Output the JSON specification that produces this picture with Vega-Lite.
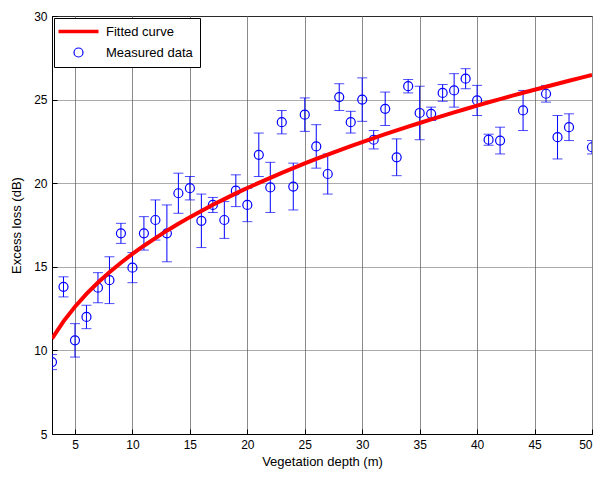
{
  "$schema": "https://vega.github.io/schema/vega-lite/v6.json",
  "width": 540,
  "height": 418,
  "autosize": "none",
  "padding": {"left": 52, "top": 16, "right": 11, "bottom": 45},
  "background": "white",
  "config": {
    "view": {"stroke": "black", "strokeWidth": 1},
    "font": "Liberation Sans",
    "axis": {
      "labelFont": "Liberation Sans", "labelFontSize": 12, "labelColor": "black",
      "titleFont": "Liberation Sans", "titleFontSize": 13, "titleFontWeight": "normal", "titleColor": "black",
      "domainColor": "black", "tickColor": "black", "tickSize": -5
    },
    "legend": {
      "labelFont": "Liberation Sans", "labelFontSize": 13, "labelColor": "black"
    }
  },
  "datasets": {
    "curve": [
      {"x": 3, "fit": 10.70}, {"x": 4, "fit": 11.74}, {"x": 5, "fit": 12.61}, {"x": 6, "fit": 13.38},
      {"x": 7, "fit": 14.06}, {"x": 8, "fit": 14.67}, {"x": 9, "fit": 15.24}, {"x": 10, "fit": 15.77},
      {"x": 11, "fit": 16.26}, {"x": 12, "fit": 16.72}, {"x": 13, "fit": 17.16}, {"x": 14, "fit": 17.57},
      {"x": 15, "fit": 17.97}, {"x": 16, "fit": 18.34}, {"x": 17, "fit": 18.71}, {"x": 18, "fit": 19.05},
      {"x": 19, "fit": 19.39}, {"x": 20, "fit": 19.71}, {"x": 21, "fit": 20.02}, {"x": 22, "fit": 20.32},
      {"x": 23, "fit": 20.62}, {"x": 24, "fit": 20.90}, {"x": 25, "fit": 21.18}, {"x": 26, "fit": 21.45},
      {"x": 27, "fit": 21.71}, {"x": 28, "fit": 21.97}, {"x": 29, "fit": 22.22}, {"x": 30, "fit": 22.46},
      {"x": 31, "fit": 22.70}, {"x": 32, "fit": 22.93}, {"x": 33, "fit": 23.16}, {"x": 34, "fit": 23.38},
      {"x": 35, "fit": 23.60}, {"x": 36, "fit": 23.82}, {"x": 37, "fit": 24.03}, {"x": 38, "fit": 24.24},
      {"x": 39, "fit": 24.44}, {"x": 40, "fit": 24.64}, {"x": 41, "fit": 24.84}, {"x": 42, "fit": 25.03},
      {"x": 43, "fit": 25.22}, {"x": 44, "fit": 25.41}, {"x": 45, "fit": 25.59}, {"x": 46, "fit": 25.77},
      {"x": 47, "fit": 25.95}, {"x": 48, "fit": 26.13}, {"x": 49, "fit": 26.30}, {"x": 50, "fit": 26.47}
    ],
    "meas": [
      {"x": 3, "y": 9.3, "err": 0.45}, {"x": 4, "y": 13.8, "err": 0.6}, {"x": 5, "y": 10.6, "err": 1.0},
      {"x": 6, "y": 12.0, "err": 0.7}, {"x": 7, "y": 13.75, "err": 0.9}, {"x": 8, "y": 14.2, "err": 1.4},
      {"x": 9, "y": 17.0, "err": 0.6}, {"x": 10, "y": 14.95, "err": 0.9}, {"x": 11, "y": 17.0, "err": 1.0},
      {"x": 12, "y": 17.8, "err": 1.2}, {"x": 13, "y": 17.0, "err": 1.7}, {"x": 14, "y": 19.4, "err": 1.2},
      {"x": 15, "y": 19.7, "err": 0.7}, {"x": 16, "y": 17.75, "err": 1.6}, {"x": 17, "y": 18.7, "err": 0.45},
      {"x": 18, "y": 17.8, "err": 1.1}, {"x": 19, "y": 19.55, "err": 0.95}, {"x": 20, "y": 18.7, "err": 1.0},
      {"x": 21, "y": 21.7, "err": 1.3}, {"x": 22, "y": 19.75, "err": 1.5}, {"x": 23, "y": 23.65, "err": 0.7},
      {"x": 24, "y": 19.8, "err": 1.4}, {"x": 25, "y": 24.1, "err": 1.0}, {"x": 26, "y": 22.2, "err": 1.3},
      {"x": 27, "y": 20.55, "err": 1.2}, {"x": 28, "y": 25.15, "err": 0.8}, {"x": 29, "y": 23.65, "err": 0.65},
      {"x": 30, "y": 25.0, "err": 1.3}, {"x": 31, "y": 22.6, "err": 0.55}, {"x": 32, "y": 24.45, "err": 1.0},
      {"x": 33, "y": 21.55, "err": 1.1}, {"x": 34, "y": 25.8, "err": 0.4}, {"x": 35, "y": 24.2, "err": 1.6},
      {"x": 36, "y": 24.15, "err": 0.4}, {"x": 37, "y": 25.4, "err": 0.5}, {"x": 38, "y": 25.55, "err": 1.0},
      {"x": 39, "y": 26.25, "err": 0.6}, {"x": 40, "y": 24.95, "err": 0.9}, {"x": 41, "y": 22.6, "err": 0.33},
      {"x": 42, "y": 22.55, "err": 0.8}, {"x": 44, "y": 24.35, "err": 1.2}, {"x": 46, "y": 25.35, "err": 0.5},
      {"x": 47, "y": 22.75, "err": 1.3}, {"x": 48, "y": 23.35, "err": 0.8}, {"x": 50, "y": 22.15, "err": 0.4}
    ]
  },
  "layer": [
    {
      "data": {"name": "meas"},
      "mark": {"type": "errorbar", "color": "#0000ff", "clip": true, "ticks": {"size": 10}},
      "encoding": {
        "x": {"field": "x", "type": "quantitative", "scale": {"domain": [3, 50], "nice": false, "zero": false},
          "axis": {"values": [5, 10, 15, 20, 25, 30, 35, 40, 45, 50], "title": "Vegetation depth (m)",
            "grid": true, "gridColor": "#8a8a8a", "gridOpacity": 1, "labelPadding": 10, "titlePadding": 5}},
        "y": {"field": "y", "type": "quantitative", "scale": {"domain": [5, 30], "nice": false, "zero": false},
          "axis": {"values": [5, 10, 15, 20, 25, 30], "title": "Excess loss (dB)",
            "grid": true, "gridColor": "#555555", "gridDash": [1, 1], "gridOpacity": 1, "labelPadding": 10, "titlePadding": 10}},
        "yError": {"field": "err"}
      }
    },
    {
      "data": {"name": "meas"},
      "mark": {"type": "point", "shape": "circle", "filled": false, "size": 81, "strokeWidth": 1.2, "clip": true, "opacity": 1},
      "encoding": {
        "x": {"field": "x", "type": "quantitative"},
        "y": {"field": "y", "type": "quantitative"},
        "color": {"datum": "Measured data", "scale": {"domain": ["Fitted curve", "Measured data"], "range": ["#ff0000", "#0000ff"]}}
      }
    },
    {
      "data": {"name": "curve"},
      "mark": {"type": "line", "strokeWidth": 4, "clip": true},
      "encoding": {
        "x": {"field": "x", "type": "quantitative"},
        "y": {"field": "fit", "type": "quantitative"},
        "color": {"datum": "Fitted curve",
          "legend": {
            "title": null, "orient": "top-left", "offset": 2, "padding": 7, "rowPadding": 6,
            "strokeColor": "black", "fillColor": "white", "cornerRadius": 0,
            "symbolSize": 81, "symbolOffset": 11, "labelOffset": 21,
            "encode": {
              "symbols": {"update": {
                "shape": {"signal": "datum.value === 'Fitted curve' ? 'stroke' : 'circle'"},
                "size": {"signal": "datum.value === 'Fitted curve' ? 1600 : 81"},
                "strokeWidth": {"signal": "datum.value === 'Fitted curve' ? 3.5 : 1.2"}
              }}
            }
          }}
      }
    }
  ]
}
